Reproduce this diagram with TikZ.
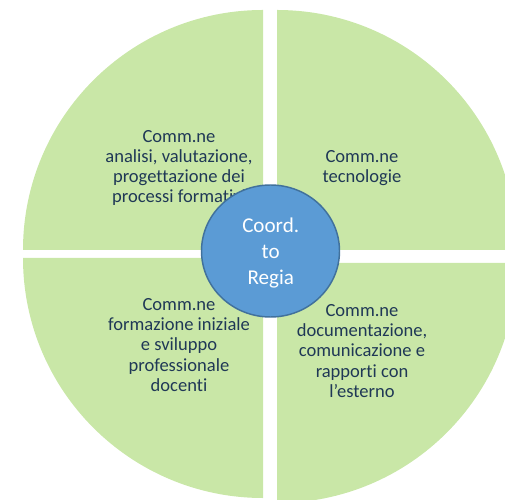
\documentclass[tikz,border=0pt]{standalone}
\usepackage{fontspec}
\setmainfont{Carlito}[Ligatures={NoCommon}]
\definecolor{quadgreen}{HTML}{C9E7A7}
\definecolor{hubblue}{HTML}{5B9BD5}
\definecolor{hubedge}{HTML}{41719C}
\definecolor{labeltext}{HTML}{1F3856}
\begin{document}
\begin{tikzpicture}[x=0.75pt,y=0.75pt]
\tikzset{
  quad/.style={fill=quadgreen,draw=none},
  qlabel/.style={align=center,text=labeltext,font=\fontsize{13.9}{15.2}\selectfont,inner sep=0pt},
  hubtext/.style={align=center,text=white,font=\fontsize{15.8}{19.2}\selectfont,inner sep=0pt},
}
\useasboundingbox (0,0) rectangle (505,499);
\clip (0,0) rectangle (505,499);
% quadrants
\fill[quad] (263,249) -- ++(0,240) arc[start angle=90,end angle=180,radius=240] -- cycle;
\fill[quad] (277,249) -- ++(240,0) arc[start angle=0,end angle=90,radius=240] -- cycle;
\fill[quad] (263,241) -- ++(-240,0) arc[start angle=180,end angle=270,radius=240] -- cycle;
\fill[quad] (277,236) -- ++(0,-240) arc[start angle=270,end angle=360,radius=240] -- cycle;
% labels
\node[qlabel] (tl) at (179,331) {Comm.ne\\analisi, valutazione,\\progettazione dei\\processi formativi};
\node[qlabel] (tr) at (362,331) {Comm.ne\\tecnologie};
\node[qlabel] (bl) at (179,154) {Comm.ne\\formazione iniziale\\e sviluppo\\professionale\\docenti};
\node[qlabel] (br) at (362,148) {Comm.ne\\documentazione,\\comunicazione e\\rapporti con\\l’esterno};
% hub
\fill[hubblue,draw=hubedge,line width=1.1pt] (270.5,248) ellipse [x radius=69,y radius=66];
\node[hubtext] (hub) at (270.7,246) {Coord.\\to\\Regia};
\end{tikzpicture}
\end{document}
